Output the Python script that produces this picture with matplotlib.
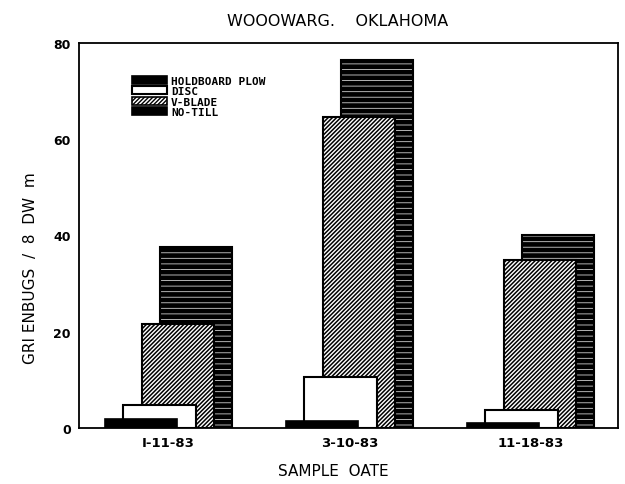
import matplotlib
matplotlib.use("Agg")
import matplotlib.pyplot as plt
from matplotlib.patches import Patch
import numpy as np

# ---- data ----
dates = ["I-11-83", "3-10-83", "11-18-83"]
series = ["HOLDBOARD PLOW", "DISC", "V-BLADE", "NO-TILL"]
moldboard = [1.9, 1.4, 1.0]
disc = [4.8, 10.5, 3.8]
vblade = [21.6, 64.7, 35.0]
notill = [37.7, 76.4, 40.2]
yticks = [0, 20, 40, 60, 80]
title = "WOOOWARG.    OKLAHOMA"
xlabel = "SAMPLE  OATE"
ylabel = "GRI ENBUGS  /  8  DW  m"

W, H = 625, 485
fig = plt.figure(figsize=(W / 100, H / 100), dpi=100)
ax = fig.add_axes([79 / W, 1 - 429 / H, (618 - 79) / W, (429 - 44) / H])

sans = ["DejaVu Sans"]
mono = ["DejaVu Sans Mono"]

x = np.arange(len(dates))
width = 0.40
step = 0.101
first_left = -0.348

data = [moldboard, disc, vblade, notill]
for i, vals in enumerate(data):
    left = x + first_left + i * step
    z = 10 - i
    if i == 0:
        ax.bar(left, vals, width=width, align="edge", color="black",
               edgecolor="black", lw=1.2, zorder=z)
    elif i == 1:
        ax.bar(left, vals, width=width, align="edge", color="white",
               edgecolor="black", lw=1.5, zorder=z)
    elif i == 2:
        plt.rcParams["hatch.linewidth"] = 1.1
        ax.bar(left, vals, width=width, align="edge", color="white",
               edgecolor="black", lw=0, hatch="////////", zorder=z)
        ax.bar(left, vals, width=width, align="edge", facecolor="none",
               edgecolor="black", lw=1.5, zorder=z)
    else:
        ax.bar(left, vals, width=width, align="edge", color="black",
               edgecolor="black", lw=0, zorder=z)
        plt.rcParams["hatch.linewidth"] = 0.6
        ax.bar(left, vals, width=width, align="edge", facecolor="none",
               edgecolor="#d0d0d0", lw=0, hatch="---", zorder=z)
        ax.bar(left, vals, width=width, align="edge", facecolor="none",
               edgecolor="black", lw=1.5, zorder=z)

ax.set_xlim((79 - 168) / 181, (618 - 168) / 181)
ax.set_ylim(0, 80)
ax.set_yticks(yticks)
ax.set_yticklabels([str(v) for v in yticks], family=sans, fontsize=9,
                   fontweight="bold")
group_centers = x + first_left + (3 * step + width) / 2
ax.set_xticks(group_centers)
ax.set_xticklabels(dates, family=sans, fontsize=9.5, fontweight="bold")
ax.tick_params(axis="both", length=0, pad=6)
for s in ax.spines.values():
    s.set_linewidth(1.3)

fig.text(338 / W, 1 - 22 / H, title, ha="center", va="center",
         family=sans, fontsize=11.5)
fig.text(333 / W, 1 - 472 / H, xlabel, ha="center", va="center",
         family=sans, fontsize=11)
ax.set_ylabel(ylabel, family=sans, fontsize=11)
ax.yaxis.set_label_coords((38 - 79) / (618 - 79), (429 - 268) / (429 - 44))

# legend
plt.rcParams["hatch.linewidth"] = 1.0
handles = [
    Patch(facecolor="black", edgecolor="black", lw=1.2),
    Patch(facecolor="white", edgecolor="black", lw=1.5),
    Patch(facecolor="white", edgecolor="black", lw=1.2, hatch="////////"),
    Patch(facecolor="black", edgecolor="black", lw=1.2),
]
leg = ax.legend(handles, series, loc="upper left",
                bbox_to_anchor=((126 - 79) / 539, (429 - 71) / 385),
                frameon=False, handlelength=3.2, handleheight=0.7,
                labelspacing=0.05, handletextpad=0.35, borderpad=0,
                prop={"family": mono, "weight": "bold", "size": 8})
leg.set_zorder(20)

fig.savefig("out.png", dpi=100)
